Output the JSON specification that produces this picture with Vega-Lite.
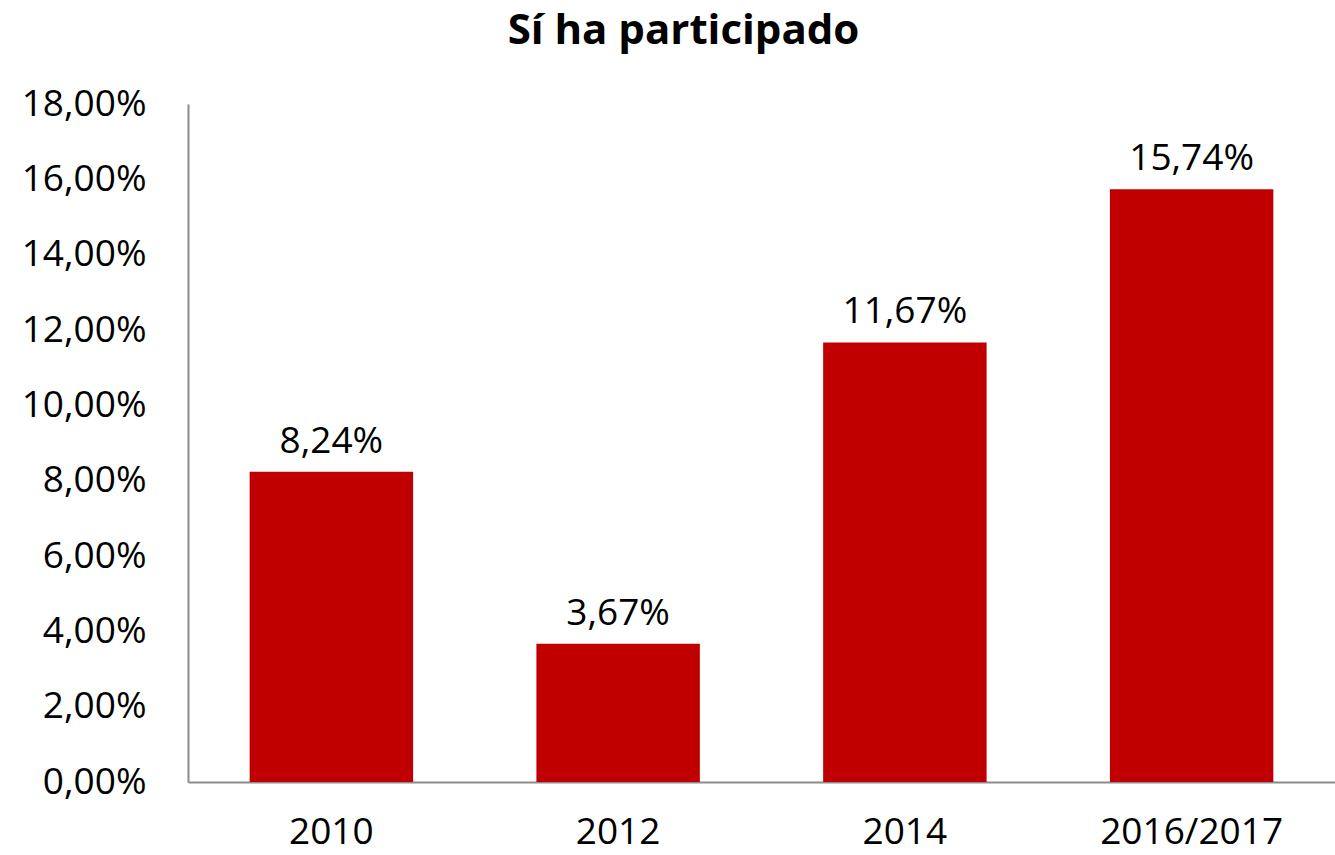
{
  "$schema": "https://vega.github.io/schema/vega-lite/v6.json",
  "autosize": "none",
  "width": 1147,
  "height": 678,
  "padding": {"left": 188, "top": 104, "right": 0, "bottom": 73},
  "background": "white",
  "config": {
    "view": {"stroke": null},
    "locale": {"number": {"decimal": ",", "thousands": ".", "grouping": [3], "currency": ["", " €"]}},
    "font": "Open Sans"
  },
  "title": {
    "text": "Sí ha participado",
    "font": "Open Sans",
    "fontSize": 42,
    "fontWeight": "bold",
    "color": "#000000",
    "anchor": "middle",
    "dx": -78,
    "offset": 32
  },
  "data": {
    "values": [
      {"year": "2010", "share": 0.0824},
      {"year": "2012", "share": 0.0367},
      {"year": "2014", "share": 0.1167},
      {"year": "2016/2017", "share": 0.1574}
    ]
  },
  "encoding": {
    "x": {
      "field": "year",
      "type": "nominal",
      "sort": null,
      "scale": {"paddingInner": 0.43, "paddingOuter": 0.215},
      "axis": {
        "title": null,
        "labelAngle": 0,
        "labelFont": "Open Sans",
        "labelFontSize": 37,
        "labelColor": "#000000",
        "labelPadding": 32,
        "labelLimit": 0,
        "labelOverlap": false,
        "ticks": false,
        "domainColor": "#8c8c8c",
        "domainWidth": 2
      }
    },
    "y": {
      "field": "share",
      "type": "quantitative",
      "scale": {"domain": [0, 0.18], "nice": false},
      "axis": {
        "title": null,
        "format": ".2%",
        "values": [0, 0.02, 0.04, 0.06, 0.08, 0.10, 0.12, 0.14, 0.16, 0.18],
        "grid": false,
        "ticks": false,
        "labelFont": "Open Sans",
        "labelFontSize": 37,
        "labelColor": "#000000",
        "labelPadding": 42,
        "domainColor": "#8c8c8c",
        "domainWidth": 2
      }
    }
  },
  "layer": [
    {"mark": {"type": "bar", "color": "#C00000"}},
    {
      "mark": {"type": "text", "font": "Open Sans", "fontSize": 37, "color": "#000000", "baseline": "alphabetic", "dy": -19},
      "encoding": {"text": {"field": "share", "type": "quantitative", "format": ".2%"}}
    }
  ]
}
